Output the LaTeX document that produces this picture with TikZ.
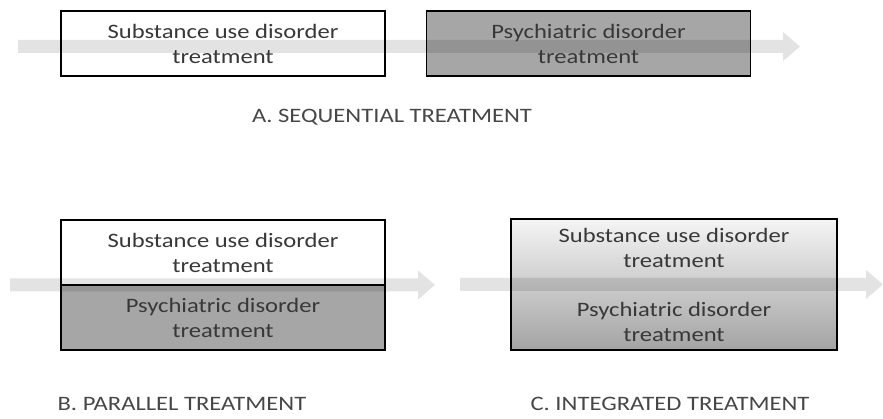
\documentclass[tikz,border=0pt]{standalone}
\usepackage{fontspec}
\setmainfont{Carlito}[FakeStretch=1.2]
\usetikzlibrary{arrows.meta,positioning}

\begin{document}
\begin{tikzpicture}[x=1pt, y=-1pt,
		box/.style={draw=black, line width=1.8pt, inner sep=0pt, font=\fontsize{20.5}{25}\selectfont, text=black!78, align=center},
		flow/.style={draw=black, line width=13pt, -{Triangle[length=17pt, width=28pt]}},
		caption/.style={font=\fontsize{20.5}{24}\selectfont, text=black!72, inner sep=0pt, anchor=base}]

		% === page bounds ===
		\useasboundingbox (0,0) rectangle (883,419);
		\def\bw{324}	\def\bh{65}

		% === A. sequential ===
		\node[box, fill=white, minimum width=\bw pt, minimum height=\bh pt] (asud) at (223,43.5)
			{Substance use disorder\\treatment};
		\node[box, fill=black!35, minimum width=\bw pt, minimum height=\bh pt] (apsy) at (588.5,43.5)
			{Psychiatric disorder\\treatment};
		\node[caption] (alabel) at (392,123) {A. SEQUENTIAL TREATMENT};

		% === B. parallel ===
		\node[box, fill=white, minimum width=\bw pt, minimum height=\bh pt] (bsud) at (223,252.5)
			{Substance use disorder\\treatment};
		\node[box, fill=black!35, minimum width=\bw pt, minimum height=\bh pt, below=-1.8pt of bsud] (bpsy)
			{Psychiatric disorder\\treatment};
		\node[caption] (blabel) at (182,410) {B. PARALLEL TREATMENT};

		% === C. integrated ===
		\node[box, top color=black!4, bottom color=black!36, minimum width=326pt, minimum height=131pt] (cbox) at (674,284.5) {};
		\node[box, draw=none] (csud) at (674,247.5) {Substance use disorder\\treatment};
		\node[box, draw=none] (cpsy) at (674,321.5) {Psychiatric disorder\\treatment};
		\node[caption] (clabel) at (670,410) {C. INTEGRATED TREATMENT};

		% === flow arrows ===
		\coordinate (astart) at (18,46.5);	\coordinate (aend) at (800,46.5);
		\coordinate (bstart) at (10,285);	\coordinate (bend) at (435,285);
		\coordinate (cstart) at (460,284.5);	\coordinate (cend) at (883,284.5);
		\foreach \s/\e in {astart/aend, bstart/bend, cstart/cend} {
			\begin{scope}[transparency group, opacity=0.11]
				\draw[flow] (\s) -- (\e);
			\end{scope}
		}
	\end{tikzpicture}
\end{document}
